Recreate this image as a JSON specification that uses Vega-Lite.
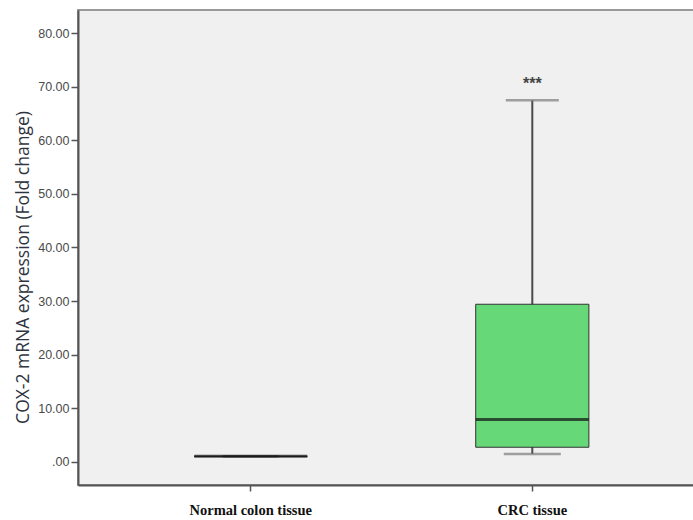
{
  "$schema": "https://vega.github.io/schema/vega-lite/v6.json",
  "width": 616,
  "height": 475,
  "autosize": {"type": "none"},
  "padding": {"left": 78, "top": 10, "right": 0, "bottom": 35},
  "background": "white",
  "view": {"fill": "#f0f0f0", "stroke": "#999999", "strokeWidth": 2},
  "data": {
    "values": [
      {"group": "Normal colon tissue", "min": 1.0, "q1": 1.0, "median": 1.0, "q3": 1.0, "max": 1.0, "sig": ""},
      {"group": "CRC tissue", "min": 1.45, "q1": 2.7, "median": 7.9, "q3": 29.4, "max": 67.5, "sig": "***"}
    ]
  },
  "encoding": {
    "x": {
      "field": "group",
      "type": "nominal",
      "sort": ["Normal colon tissue", "CRC tissue"],
      "scale": {"type": "band", "paddingInner": 0.598, "paddingOuter": 0.393, "align": 0.525},
      "axis": {
        "title": null,
        "labelAngle": 0,
        "labelFont": "Liberation Serif",
        "labelFontWeight": "bold",
        "labelFontSize": 14.5,
        "labelColor": "#111111",
        "labelPadding": 12,
        "tickSize": 6,
        "tickColor": "#555555",
        "tickWidth": 1.5,
        "domainColor": "#555555",
        "domainWidth": 2,
        "grid": false
      }
    }
  },
  "layer": [
    {
      "mark": {"type": "rule", "color": "#4a4a4a", "strokeWidth": 2},
      "encoding": {
        "y": {
          "field": "min",
          "type": "quantitative",
          "scale": {"domain": [-4.35, 84.35], "nice": false, "zero": false},
          "axis": {
            "title": "COX-2 mRNA expression (Fold change)",
            "titleFont": "Open Sans",
            "titleFontSize": 17.5,
            "titleFontWeight": "normal",
            "titleColor": "#2e3440",
            "titlePadding": 5,
            "titleY": 257,
            "values": [0, 10, 20, 30, 40, 50, 60, 70, 80],
            "labelExpr": "datum.value == 0 ? '.00' : format(datum.value, '.2f')",
            "labelFont": "Liberation Sans",
            "labelFontSize": 12.5,
            "labelColor": "#4a4a4a",
            "labelPadding": 2,
            "tickSize": 7,
            "tickColor": "#555555",
            "tickWidth": 1.5,
            "domainColor": "#555555",
            "domainWidth": 2,
            "grid": false
          }
        },
        "y2": {"field": "max"}
      }
    },
    {
      "mark": {"type": "tick", "color": "#7a7a7a", "size": 57, "thickness": 2.5},
      "encoding": {"y": {"field": "min", "type": "quantitative"}}
    },
    {
      "mark": {"type": "tick", "color": "#7a7a7a", "size": 53, "thickness": 2.5},
      "encoding": {"y": {"field": "max", "type": "quantitative"}}
    },
    {
      "mark": {"type": "bar", "fill": "#66d878", "stroke": "#333333", "strokeWidth": 1},
      "encoding": {
        "y": {"field": "q1", "type": "quantitative"},
        "y2": {"field": "q3"}
      }
    },
    {
      "mark": {"type": "tick", "color": "#111111", "size": 113, "thickness": 3},
      "encoding": {"y": {"field": "median", "type": "quantitative"}}
    },
    {
      "mark": {"type": "text", "font": "Liberation Sans", "fontSize": 16, "fontWeight": "bold", "color": "#444444", "baseline": "middle", "dy": 4},
      "encoding": {
        "y": {"datum": 71.3, "type": "quantitative"},
        "text": {"field": "sig"}
      }
    }
  ]
}
